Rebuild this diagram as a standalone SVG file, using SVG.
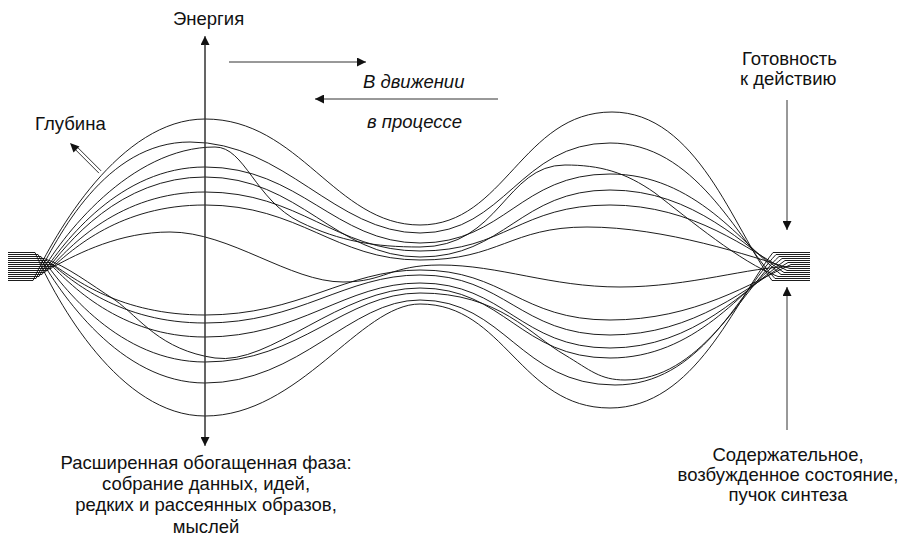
<svg xmlns="http://www.w3.org/2000/svg" width="901" height="547" viewBox="0 0 901 547">
<style>
.c{fill:none;stroke:#111;stroke-width:0.95}
.ax{fill:none;stroke:#333;stroke-width:1}
.t{font-family:"Liberation Sans",Arial,sans-serif;font-size:18.5px;fill:#111}
.n{font-family:"Liberation Sans",Arial,sans-serif;font-size:18.5px;fill:#111;text-anchor:middle}
.i{font-style:italic}
</style>
<defs>
<marker id="ah" viewBox="0 0 10 10" refX="10" refY="5" markerWidth="9" markerHeight="9" markerUnits="userSpaceOnUse" orient="auto">
<path d="M0,0 L10,5 L0,10 Z" fill="#111"/>
</marker>
</defs>
<rect width="901" height="547" fill="#fff"/>
<g id="curves">
<path class="c" d="M8 280.5 L33 280.5 C55 233.5 120 119 205 119 C300 119 335 225 420 225 C505 225 522 112 612 112 C697 112 734 229.6 772 280.5 L810 280.5"/>
<path class="c" d="M8 278.5 L36 278.5 C58 237 105 142 190 142 C285 142 335 233 420 233 C505 233 520 143 610 143 C695 143 737 237.6 775 278.5 L810 278.5"/>
<path class="c" d="M8 276.5 L39 276.5 C61 237 130 147 215 147 C245 147 255 200 300 222 C340 241.5 375 247 420 247 C500 247 505 165 565 165 C600 165 625 172 655 193 C690 220 740 262 778 276.5 L810 276.5"/>
<path class="c" d="M8 274.5 L42 274.5 C64 242 120 167 205 167 C300 167 335 243 420 243 C505 243 520 174 610 174 C695 174 743 244.4 781 274.5 L810 274.5"/>
<path class="c" d="M8 272.5 L45 272.5 C67 243 120 177 205 177 C300 177 335 257 420 257 C505 257 520 190 610 190 C695 190 746 248 784 272.5 L810 272.5"/>
<path class="c" d="M8 270.5 L48 270.5 C70 246 120 192 205 192 C300 192 335 251 420 251 C505 251 520 205 610 205 C695 205 749 251.2 787 270.5 L810 270.5"/>
<path class="c" d="M8 268.5 L51 268.5 C73 249 120 205 205 205 C300 205 335 260 420 260 C500 260 510 227 587 227 C665 227 752 256.5 790 268.5 L810 268.5"/>
<path class="c" d="M8 266.5 L54 266.5 C79 253 120 232 170 232 C230 232 290 282 343 282 C385 282 390 265 440 265 C500 265 550 287 620 287 C690 287 750 266.5 792 266.5 L810 266.5"/>
<path class="c" d="M8 264.5 L53 264.5 C75 279 120 315 205 315 C300 315 345 270 420 270 C505 270 520 320 610 320 C695 320 753 281.9 791 264.5 L810 264.5"/>
<path class="c" d="M8 262.5 L50 262.5 C72 281 120 323 205 323 C300 323 345 275 420 275 C505 275 520 335 610 335 C695 335 750 285.2 788 262.5 L810 262.5"/>
<path class="c" d="M8 260.5 L47 260.5 C69 284 120 337 205 337 C300 337 345 283 420 283 C505 283 520 348 610 348 C695 348 747 287.8 785 260.5 L810 260.5"/>
<path class="c" d="M8 258.5 L44 258.5 C67 266 90 284 115 300 C140 318 160 350 215 358 C270 366 340 288 420 288 C505 288 520 358 610 358 C695 358 744 289.5 782 258.5 L810 258.5"/>
<path class="c" d="M8 256.5 L41 256.5 C63 288 120 362 205 362 C300 362 345 293 420 293 C500 293 530 335 565 355 C590 370 600 380 625 380 C700 380 741 292 779 256.5 L810 256.5"/>
<path class="c" d="M8 254.5 L38 254.5 C60 293 120 383 205 383 C300 383 350 300 420 300 C505 300 520 385 615 385 C700 385 738 295.1 776 254.5 L810 254.5"/>
<path class="c" d="M8 252.5 L35 252.5 C57 302 120 416 205 416 C300 416 360 304 420 304 C505 304 520 408 610 408 C695 408 735 300.8 773 252.5 L810 252.5"/>
</g>
<g id="connectors">
<line class="ax" x1="205" y1="440" x2="205" y2="36" marker-end="url(#ah)"/>
<line class="ax" x1="205" y1="44" x2="205" y2="446" marker-end="url(#ah)"/>
<line class="ax" x1="229" y1="62" x2="366" y2="62" marker-end="url(#ah)"/>
<line class="ax" x1="498" y1="99" x2="315" y2="99" marker-end="url(#ah)"/>
<line class="ax" x1="787" y1="100" x2="787" y2="230" marker-end="url(#ah)"/>
<line class="ax" x1="787" y1="430" x2="787" y2="287" marker-end="url(#ah)"/>
<g id="depth-arrow">
<line class="ax" x1="101.1" y1="170.9" x2="77.8" y2="147.6"/>
<line class="ax" x1="98.9" y1="173.1" x2="75.6" y2="149.8"/>
<path d="M70 143 L79.5 146.5 L73.5 152.5 Z" fill="#111"/>
</g>
</g>
<g id="labels">
<text class="t" x="173" y="25">Энергия</text>
<text class="t i" x="363" y="88">В движении</text>
<text class="t i" x="367" y="128">в процессе</text>
<text class="t" x="35" y="130">Глубина</text>
<text class="t" x="742" y="65">Готовность</text>
<text class="t" x="740" y="85">к действию</text>
<text class="n" x="206" y="469">Расширенная обогащенная фаза:</text>
<text class="n" x="206" y="490">собрание данных, идей,</text>
<text class="n" x="206" y="511">редких и рассеянных образов,</text>
<text class="n" x="206" y="533">мыслей</text>
<text class="n" x="788" y="461">Содержательное,</text>
<text class="n" x="788" y="481">возбужденное состояние,</text>
<text class="n" x="788" y="501">пучок синтеза</text>
</g>
</svg>
